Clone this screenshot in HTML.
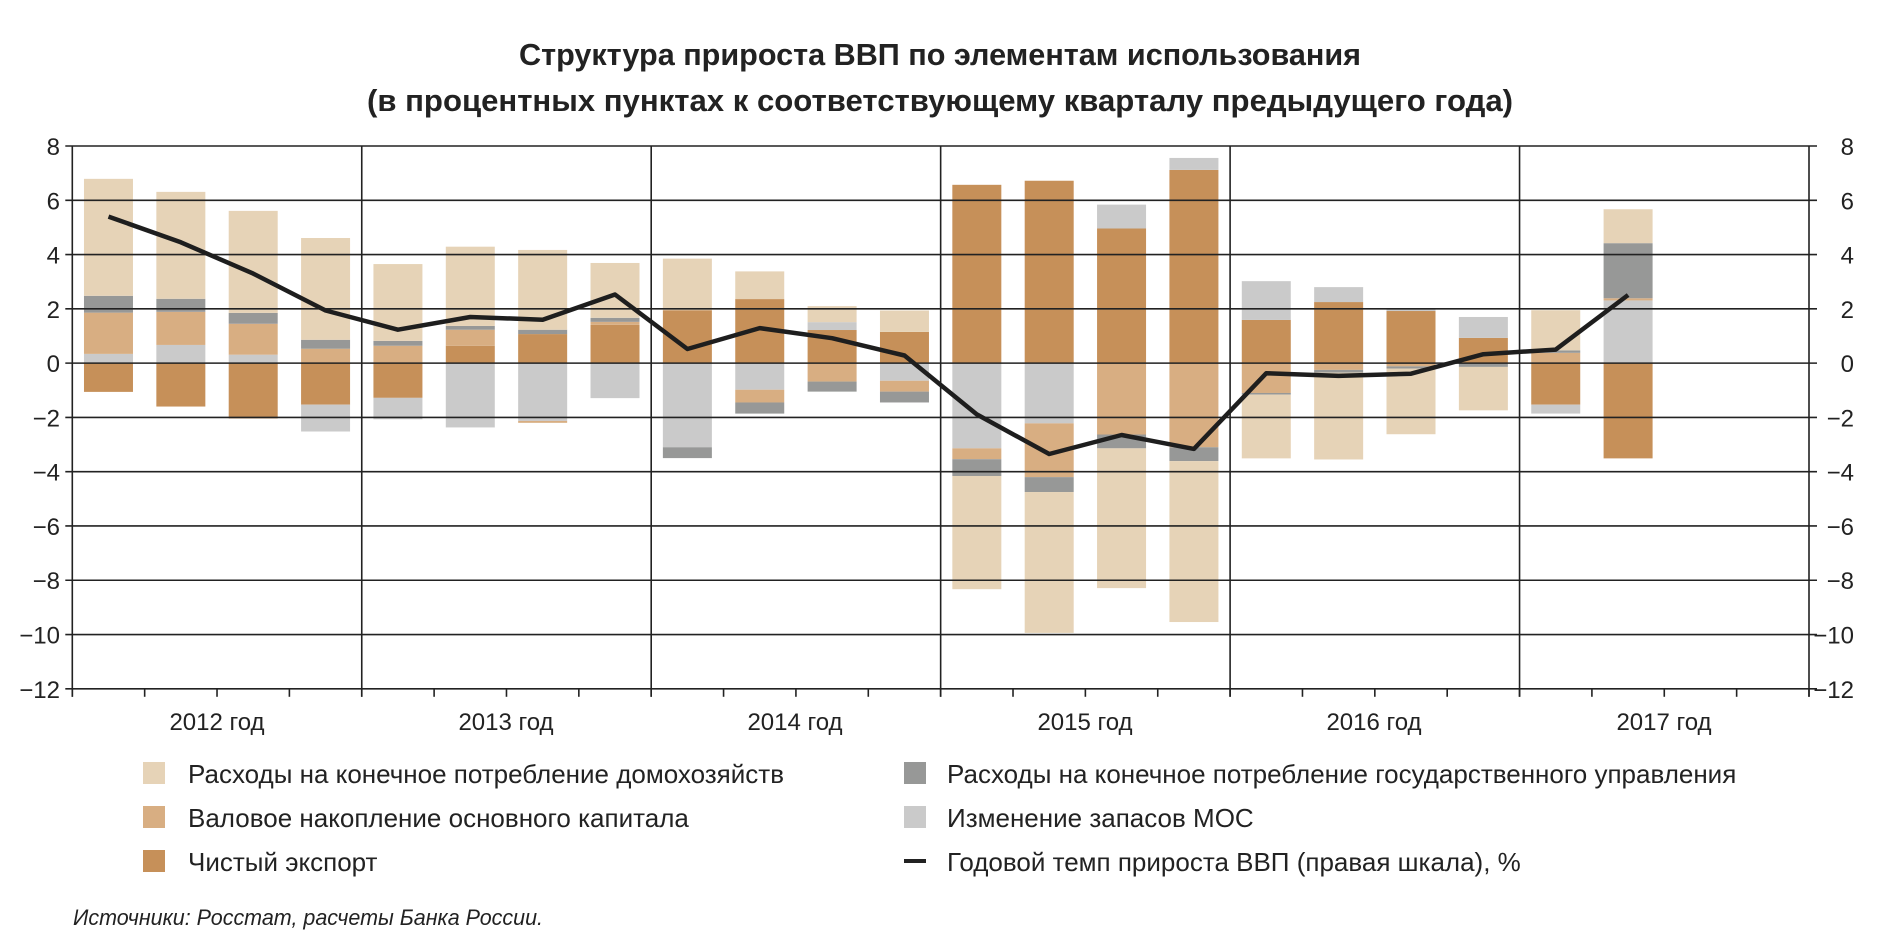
<!DOCTYPE html>
<html><head><meta charset="utf-8"><style>
body{margin:0;background:#fff;width:1895px;height:950px;overflow:hidden}
svg{display:block}
text{font-family:"Liberation Sans",sans-serif;fill:#222}
.t{font-family:"Liberation Sans Narrow","Liberation Sans",sans-serif;font-weight:bold;font-size:31px;fill:#222}
.ax{font-size:24px}
.lg{font-size:26px}
</style></head><body>
<svg id="s" width="1895" height="950" xmlns="http://www.w3.org/2000/svg">
<text class="t" x="940" y="65" text-anchor="middle" textLength="842" lengthAdjust="spacingAndGlyphs">Структура прироста ВВП по элементам использования</text>
<text class="t" x="940" y="111" text-anchor="middle" textLength="1146" lengthAdjust="spacingAndGlyphs">(в процентных пунктах к соответствующему кварталу предыдущего года)</text>
<g id="bars"></g>
<g id="grid" stroke="#222" stroke-width="1.6" fill="none"></g>
<g id="lt" class="ax" text-anchor="end"></g>
<g class="ax" text-anchor="middle">
<text x="217" y="730">2012 год</text><text x="506" y="730">2013 год</text><text x="795" y="730">2014 год</text><text x="1085" y="730">2015 год</text><text x="1374" y="730">2016 год</text><text x="1664" y="730">2017 год</text>
</g>
<g class="lg">
<rect x="143" y="762" width="22" height="22" fill="#e6d3b7"/><text x="188" y="783">Расходы на конечное потребление домохозяйств</text>
<rect x="143" y="806" width="22" height="22" fill="#d8ae82"/><text x="188" y="827">Валовое накопление основного капитала</text>
<rect x="143" y="850" width="22" height="22" fill="#c69059"/><text x="188" y="871">Чистый экспорт</text>
<rect x="904" y="762" width="22" height="22" fill="#979897"/><text x="947" y="783">Расходы на конечное потребление государственного управления</text>
<rect x="904" y="806" width="22" height="22" fill="#cacaca"/><text x="947" y="827">Изменение запасов МОС</text>
<rect x="904" y="859" width="22" height="4" fill="#222"/><text x="947" y="871">Годовой темп прироста ВВП (правая шкала), %</text>
</g>
<text x="73" y="925" font-size="22" font-style="italic" textLength="470" lengthAdjust="spacingAndGlyphs">Источники: Росстат, расчеты Банка России.</text>
<polyline id="ln" fill="none" stroke="#1e1e1e" stroke-width="4.5" stroke-linejoin="round"/>
</svg>
<script>
var L=72.3,R=1809,Q=(R-L)/24,U=27.14,Y=function(v){return 146+(8-v)*U};
var C={H:"#e6d3b7",I:"#d8ae82",N:"#c69059",G:"#979897",S:"#cacaca"};
var D=[
"S0,.34 I.34,1.86 G1.86,2.48 H2.48,6.79 N0,-1.06",
"S0,.67 I.67,1.89 G1.89,2.37 H2.37,6.31 N0,-1.6",
"S0,.31 I.31,1.45 G1.45,1.85 H1.85,5.61 N0,-2.04",
"I0,.53 G.53,.86 H.86,4.61 N0,-1.53 S-1.53,-2.52",
"I0,.64 G.64,.82 H.82,3.65 N0,-1.28 S-1.28,-2.07",
"N0,.64 I.64,1.23 G1.23,1.37 H1.37,4.29 S0,-2.37",
"N0,1.07 G1.07,1.23 H1.23,4.17 S0,-2.13 I-2.13,-2.2",
"N0,1.41 I1.41,1.52 G1.52,1.67 H1.67,3.69 S0,-1.29",
"N0,1.95 H1.95,3.85 S0,-3.1 G-3.1,-3.5",
"N0,2.36 H2.36,3.38 S0,-.98 I-.98,-1.45 G-1.45,-1.86",
"N0,1.22 S1.22,1.51 H1.51,2.1 I0,-.68 G-.68,-1.05",
"N0,1.15 H1.15,1.94 S0,-.65 I-.65,-1.05 G-1.05,-1.45",
"N0,6.57 S0,-3.14 I-3.14,-3.54 G-3.54,-4.16 H-4.16,-8.33",
"N0,6.72 S0,-2.22 I-2.22,-4.2 G-4.2,-4.75 H-4.75,-9.94",
"N0,4.96 S4.96,5.84 I0,-2.63 G-2.63,-3.14 H-3.14,-8.29",
"N0,7.12 S7.12,7.56 I0,-3.1 G-3.1,-3.61 H-3.61,-9.54",
"N0,1.59 S1.59,3.02 I0,-1.1 G-1.1,-1.16 H-1.16,-3.51",
"N0,2.25 S2.25,2.8 I0,-.25 G-.25,-.35 H-.35,-3.55",
"N0,1.92 S1.92,2.02 I0,-.12 G-.12,-.2 H-.2,-2.62",
"N0,.93 S.93,1.7 G0,-.14 H-.14,-1.74",
"I0,.38 G.38,.47 H.47,1.95 N0,-1.53 S-1.53,-1.86",
"S0,2.31 I2.31,2.39 G2.39,4.42 H4.42,5.67 N0,-3.51"];
var ln=[5.4,4.45,3.3,1.94,1.23,1.7,1.6,2.53,0.52,1.29,0.92,0.28,-1.89,-3.35,-2.65,-3.16,-0.37,-0.47,-0.39,0.33,0.5,2.51];
var ns="http://www.w3.org/2000/svg",b=document.getElementById("bars"),g=document.getElementById("grid"),lt=document.getElementById("lt");
function el(p,t,a){var e=document.createElementNS(ns,t);for(var k in a)e.setAttribute(k,a[k]);p.appendChild(e);return e;}
D.forEach(function(s,i){var cx=L+Q*(i+.5);s.split(" ").forEach(function(seg){var c=seg[0],v=seg.slice(1).split(",").map(Number);var y1=Y(Math.max(v[0],v[1])),y2=Y(Math.min(v[0],v[1]));el(b,"rect",{x:cx-24.5,y:y1,width:49,height:y2-y1,fill:C[c]});});});
for(var v=8;v>=-12;v-=2){el(g,"line",{x1:L-7,x2:R+8,y1:Y(v),y2:Y(v)});
 var s=(v<0?"−"+(-v):""+v);
 el(lt,"text",{x:60,y:Y(v)+9}).textContent=s;
 el(lt,"text",{x:1854,y:Y(v)+9}).textContent=s;}
for(var k=0;k<=6;k++){var x=L+k*Q*4;el(g,"line",{x1:x,x2:x,y1:Y(8),y2:Y(-12)+8});}
for(var k=0;k<=24;k++){var x=L+k*Q;el(g,"line",{x1:x,x2:x,y1:Y(-12),y2:Y(-12)+8});}
document.getElementById("ln").setAttribute("points",ln.map(function(v,i){return (L+Q*(i+.5)).toFixed(1)+","+Y(v).toFixed(1)}).join(" "));
</script>
</body></html>
